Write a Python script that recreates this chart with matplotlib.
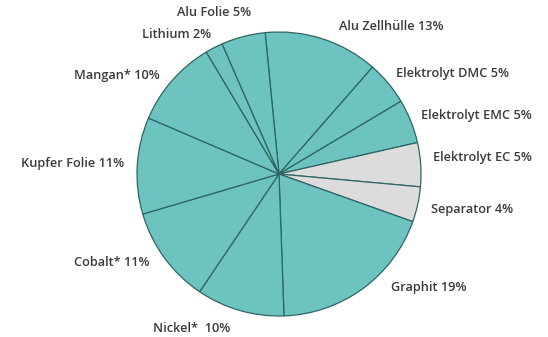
import matplotlib
matplotlib.use("Agg")
import matplotlib.pyplot as plt

# Data (clockwise from top)
categories = ["Alu Zellhülle", "Elektrolyt DMC", "Elektrolyt EMC", "Elektrolyt EC",
              "Separator", "Graphit", "Nickel* ", "Cobalt*", "Kupfer Folie",
              "Mangan*", "Lithium", "Alu Folie"]
values = [13, 5, 5, 5, 4, 19, 10, 11, 11, 10, 2, 5]
grey_items = ["Elektrolyt EC", "Separator"]

# Layout (pixel positions of labels)
label_pos = [(391, 27), (452, 73), (476, 115), (482, 157), (472, 210), (429, 288),
             (192, 328), (112, 263), (73, 163), (117, 75), (177, 35), (214, 13)]

W, H = 548, 337
fig = plt.figure(figsize=(W / 100, H / 100), dpi=100)
ax = fig.add_axes([0, 0, 1, 1])

teal = "#6cc3bf"
grey = "#dcdcdc"
colors = [grey if c in grey_items else teal for c in categories]

ax.pie(values, colors=colors, startangle=95.6, counterclock=False,
       center=(279, H - 174), radius=142, frame=True,
       wedgeprops=dict(edgecolor="#2e6664", linewidth=0.9))
ax.set_xlim(0, W)
ax.set_ylim(0, H)
ax.set_aspect("equal")
ax.axis("off")

for name, v, (px, py) in zip(categories, values, label_pos):
    ax.text(px, H - py, f"{name} {v}%", ha="center", va="center",
            fontsize=9.2, family="Open Sans", fontweight="semibold", color="#3a3a3a")

fig.savefig("out.png", dpi=100)
